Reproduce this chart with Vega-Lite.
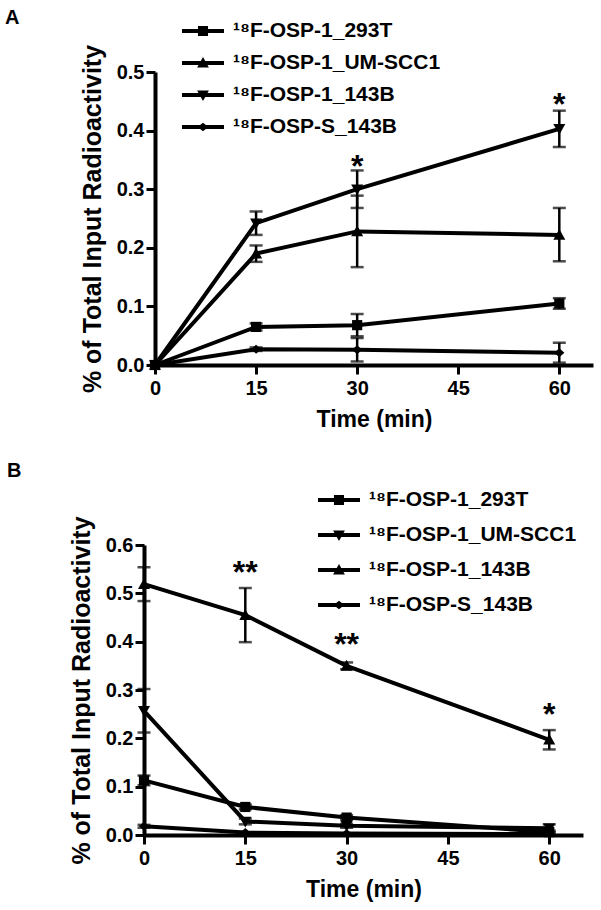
{
  "$schema": "https://vega.github.io/schema/vega-lite/v6.json",
  "background": "white",
  "padding": {"left": 5, "top": 8, "right": 5, "bottom": 5},
  "spacing": 30,
  "resolve": {"scale": {"shape": "independent"}},
  "datasets": {
    "a": [
      {"series": "¹⁸F-OSP-1_293T", "time": 0, "mean": 0},
      {"series": "¹⁸F-OSP-1_293T", "time": 15, "mean": 0.065, "lo": 0.059, "hi": 0.071},
      {"series": "¹⁸F-OSP-1_293T", "time": 30, "mean": 0.068, "lo": 0.049, "hi": 0.087},
      {"series": "¹⁸F-OSP-1_293T", "time": 60, "mean": 0.105, "lo": 0.096, "hi": 0.114},
      {"series": "¹⁸F-OSP-1_UM-SCC1", "time": 0, "mean": 0},
      {"series": "¹⁸F-OSP-1_UM-SCC1", "time": 15, "mean": 0.19, "lo": 0.176, "hi": 0.204},
      {"series": "¹⁸F-OSP-1_UM-SCC1", "time": 30, "mean": 0.228, "lo": 0.167, "hi": 0.289},
      {"series": "¹⁸F-OSP-1_UM-SCC1", "time": 60, "mean": 0.222, "lo": 0.177, "hi": 0.268},
      {"series": "¹⁸F-OSP-1_143B", "time": 0, "mean": 0},
      {"series": "¹⁸F-OSP-1_143B", "time": 15, "mean": 0.242, "lo": 0.222, "hi": 0.262},
      {"series": "¹⁸F-OSP-1_143B", "time": 30, "mean": 0.3, "lo": 0.268, "hi": 0.332},
      {"series": "¹⁸F-OSP-1_143B", "time": 60, "mean": 0.403, "lo": 0.372, "hi": 0.434},
      {"series": "¹⁸F-OSP-S_143B", "time": 0, "mean": 0},
      {"series": "¹⁸F-OSP-S_143B", "time": 15, "mean": 0.027, "lo": 0.024, "hi": 0.03},
      {"series": "¹⁸F-OSP-S_143B", "time": 30, "mean": 0.026, "lo": 0.006, "hi": 0.046},
      {"series": "¹⁸F-OSP-S_143B", "time": 60, "mean": 0.021, "lo": 0.004, "hi": 0.038}
    ],
    "b": [
      {"series": "¹⁸F-OSP-1_293T", "time": 0, "mean": 0.113, "lo": 0.103, "hi": 0.123},
      {"series": "¹⁸F-OSP-1_293T", "time": 15, "mean": 0.058, "lo": 0.053, "hi": 0.063},
      {"series": "¹⁸F-OSP-1_293T", "time": 30, "mean": 0.036, "lo": 0.031, "hi": 0.041},
      {"series": "¹⁸F-OSP-1_293T", "time": 60, "mean": 0.006, "lo": 0.003, "hi": 0.009},
      {"series": "¹⁸F-OSP-1_UM-SCC1", "time": 0, "mean": 0.257, "lo": 0.212, "hi": 0.302},
      {"series": "¹⁸F-OSP-1_UM-SCC1", "time": 15, "mean": 0.028, "lo": 0.022, "hi": 0.034},
      {"series": "¹⁸F-OSP-1_UM-SCC1", "time": 30, "mean": 0.019, "lo": 0.015, "hi": 0.023},
      {"series": "¹⁸F-OSP-1_UM-SCC1", "time": 60, "mean": 0.014, "lo": 0.006, "hi": 0.022},
      {"series": "¹⁸F-OSP-1_143B", "time": 0, "mean": 0.519, "lo": 0.484, "hi": 0.554},
      {"series": "¹⁸F-OSP-1_143B", "time": 15, "mean": 0.455, "lo": 0.399, "hi": 0.511},
      {"series": "¹⁸F-OSP-1_143B", "time": 30, "mean": 0.35, "lo": 0.343, "hi": 0.357},
      {"series": "¹⁸F-OSP-1_143B", "time": 60, "mean": 0.197, "lo": 0.177, "hi": 0.217},
      {"series": "¹⁸F-OSP-S_143B", "time": 0, "mean": 0.018, "lo": 0.015, "hi": 0.021},
      {"series": "¹⁸F-OSP-S_143B", "time": 15, "mean": 0.005},
      {"series": "¹⁸F-OSP-S_143B", "time": 30, "mean": 0.003},
      {"series": "¹⁸F-OSP-S_143B", "time": 60, "mean": 0.002}
    ],
    "starsA": [
      {"time": 30, "y": 0.351, "label": "*"},
      {"time": 60, "y": 0.458, "label": "*"}
    ],
    "starsB": [
      {"time": 15, "y": 0.559, "label": "**"},
      {"time": 30, "y": 0.41, "label": "**"},
      {"time": 60, "y": 0.265, "label": "*"}
    ]
  },
  "vconcat": [
    {
      "width": 438,
      "height": 293,
      "title": {"text": "A", "anchor": "start", "frame": "group", "dx": -150, "dy": 15},
      "resolve": {"scale": {"shape": "independent"}},
      "encoding": {
        "x": {"field": "time", "type": "quantitative", "title": "Time (min)",
              "scale": {"domain": [0, 65], "nice": false},
              "axis": {"values": [0, 15, 30, 45, 60], "labelPadding": 4, "titlePadding": 10}}
      },
      "layer": [
        {
          "data": {"name": "a"},
          "mark": {"type": "rule", "color": "black", "strokeWidth": 2.5},
          "encoding": {
            "y": {"field": "lo", "type": "quantitative", "title": "% of Total Input Radioactivity",
                  "scale": {"domain": [0, 0.5], "nice": false},
                  "axis": {"values": [0, 0.1, 0.2, 0.3, 0.4, 0.5], "format": ".1f", "labelPadding": 2, "titlePadding": 11}},
            "y2": {"field": "hi"}
          }
        },
        {
          "data": {"name": "a"},
          "mark": {"type": "tick", "orient": "horizontal", "color": "black", "size": 13, "thickness": 2.5},
          "encoding": {"y": {"field": "lo", "type": "quantitative", "title": "% of Total Input Radioactivity"}}
        },
        {
          "data": {"name": "a"},
          "mark": {"type": "tick", "orient": "horizontal", "color": "black", "size": 13, "thickness": 2.5},
          "encoding": {"y": {"field": "hi", "type": "quantitative", "title": "% of Total Input Radioactivity"}}
        },
        {
          "data": {"name": "a"},
          "mark": {"type": "line", "color": "black", "strokeWidth": 4},
          "encoding": {
            "y": {"field": "mean", "type": "quantitative", "title": "% of Total Input Radioactivity"},
            "detail": {"field": "series"}
          }
        },
        {
          "data": {"name": "a"},
          "mark": {"type": "point", "filled": true, "color": "black", "size": 144, "opacity": 1},
          "encoding": {
            "y": {"field": "mean", "type": "quantitative", "title": "% of Total Input Radioactivity"},
            "shape": {
              "field": "series", "type": "nominal",
              "scale": {
                "domain": ["¹⁸F-OSP-1_293T", "¹⁸F-OSP-1_UM-SCC1", "¹⁸F-OSP-1_143B", "¹⁸F-OSP-S_143B"],
                "range": ["M-0.85,-0.85H0.85V0.85H-0.85Z", "M0,-1L1,0.8H-1Z", "M0,1L-1,-0.8H1Z", "M0,-0.75L0.85,0L0,0.75L-0.85,0Z"]
              },
              "legend": null
            }
          }
        },
        {
          "data": {"name": "a"},
          "mark": {"type": "point", "filled": true, "color": "black", "size": 1, "opacity": 0},
          "encoding": {
            "y": {"field": "mean", "type": "quantitative", "title": "% of Total Input Radioactivity"},
            "shape": {
              "field": "series", "type": "nominal",
              "scale": {
                "domain": ["¹⁸F-OSP-1_293T", "¹⁸F-OSP-1_UM-SCC1", "¹⁸F-OSP-1_143B", "¹⁸F-OSP-S_143B"],
                "range": [
                  "M-1,-0.095H1V0.095H-1Z M-0.24,-0.24H0.24V0.24H-0.24Z",
                  "M-1,-0.095H1V0.095H-1Z M0,-0.28L0.28,0.22H-0.28Z",
                  "M-1,-0.095H1V0.095H-1Z M0,0.28L-0.28,-0.22H0.28Z",
                  "M-1,-0.095H1V0.095H-1Z M0,-0.2L0.26,0L0,0.2L-0.26,0Z"
                ]
              },
              "legend": {
                "title": null, "orient": "none", "legendX": 27, "legendY": -55,
                "symbolSize": 1764, "clipHeight": 28, "rowPadding": 4, "labelOffset": 9, "labelLimit": 400,
                "padding": 0, "symbolOpacity": 1, "symbolFillColor": "black", "symbolStrokeWidth": 0
              }
            }
          }
        },
        {
          "data": {"name": "starsA"},
          "mark": {"type": "text", "fontSize": 32, "fontWeight": "bold", "font": "Liberation Sans", "color": "black", "baseline": "middle", "dy": 8},
          "encoding": {
            "y": {"field": "y", "type": "quantitative", "title": "% of Total Input Radioactivity"},
            "text": {"field": "label"}
          }
        }
      ]
    },
    {
      "width": 428,
      "height": 290,
      "title": {"text": "B", "anchor": "start", "frame": "group", "dx": -148},
      "resolve": {"scale": {"shape": "independent"}},
      "encoding": {
        "x": {"field": "time", "type": "quantitative", "title": "Time (min)",
              "scale": {"domain": [0, 65], "nice": false, "range": [-11, 428]},
              "axis": {"values": [0, 15, 30, 45, 60], "labelPadding": 4, "titlePadding": 10}}
      },
      "layer": [
        {
          "data": {"name": "b"},
          "mark": {"type": "rule", "color": "black", "strokeWidth": 2.5},
          "encoding": {
            "y": {"field": "lo", "type": "quantitative", "title": "% of Total Input Radioactivity",
                  "scale": {"domain": [0, 0.6], "nice": false},
                  "axis": {"values": [0, 0.1, 0.2, 0.3, 0.4, 0.5, 0.6], "format": ".1f", "labelPadding": 2, "titlePadding": 11, "offset": 11}},
            "y2": {"field": "hi"}
          }
        },
        {
          "data": {"name": "b"},
          "mark": {"type": "tick", "orient": "horizontal", "color": "black", "size": 13, "thickness": 2.5},
          "encoding": {"y": {"field": "lo", "type": "quantitative", "title": "% of Total Input Radioactivity"}}
        },
        {
          "data": {"name": "b"},
          "mark": {"type": "tick", "orient": "horizontal", "color": "black", "size": 13, "thickness": 2.5},
          "encoding": {"y": {"field": "hi", "type": "quantitative", "title": "% of Total Input Radioactivity"}}
        },
        {
          "data": {"name": "b"},
          "mark": {"type": "line", "color": "black", "strokeWidth": 4},
          "encoding": {
            "y": {"field": "mean", "type": "quantitative", "title": "% of Total Input Radioactivity"},
            "detail": {"field": "series"}
          }
        },
        {
          "data": {"name": "b"},
          "mark": {"type": "point", "filled": true, "color": "black", "size": 144, "opacity": 1},
          "encoding": {
            "y": {"field": "mean", "type": "quantitative", "title": "% of Total Input Radioactivity"},
            "shape": {
              "field": "series", "type": "nominal",
              "scale": {
                "domain": ["¹⁸F-OSP-1_293T", "¹⁸F-OSP-1_UM-SCC1", "¹⁸F-OSP-1_143B", "¹⁸F-OSP-S_143B"],
                "range": ["M-0.85,-0.85H0.85V0.85H-0.85Z", "M0,1L-1,-0.8H1Z", "M0,-1L1,0.8H-1Z", "M0,-0.75L0.85,0L0,0.75L-0.85,0Z"]
              },
              "legend": null
            }
          }
        },
        {
          "data": {"name": "b"},
          "mark": {"type": "point", "filled": true, "color": "black", "size": 1, "opacity": 0},
          "encoding": {
            "y": {"field": "mean", "type": "quantitative", "title": "% of Total Input Radioactivity"},
            "shape": {
              "field": "series", "type": "nominal",
              "scale": {
                "domain": ["¹⁸F-OSP-1_293T", "¹⁸F-OSP-1_UM-SCC1", "¹⁸F-OSP-1_143B", "¹⁸F-OSP-S_143B"],
                "range": [
                  "M-1,-0.095H1V0.095H-1Z M-0.24,-0.24H0.24V0.24H-0.24Z",
                  "M-1,-0.095H1V0.095H-1Z M0,0.28L-0.28,-0.22H0.28Z",
                  "M-1,-0.095H1V0.095H-1Z M0,-0.28L0.28,0.22H-0.28Z",
                  "M-1,-0.095H1V0.095H-1Z M0,-0.2L0.26,0L0,0.2L-0.26,0Z"
                ]
              },
              "legend": {
                "title": null, "orient": "none", "legendX": 163, "legendY": -60,
                "symbolSize": 1764, "clipHeight": 30, "rowPadding": 5, "labelOffset": 9, "labelLimit": 400,
                "padding": 0, "symbolOpacity": 1, "symbolFillColor": "black", "symbolStrokeWidth": 0
              }
            }
          }
        },
        {
          "data": {"name": "starsB"},
          "mark": {"type": "text", "fontSize": 32, "fontWeight": "bold", "font": "Liberation Sans", "color": "black", "baseline": "middle", "dy": 8},
          "encoding": {
            "y": {"field": "y", "type": "quantitative", "title": "% of Total Input Radioactivity"},
            "text": {"field": "label"}
          }
        }
      ]
    }
  ],
  "config": {
    "view": {"stroke": null},
    "font": "Liberation Sans",
    "title": {"font": "Liberation Sans", "fontSize": 20, "fontWeight": "bold", "color": "black"},
    "axis": {
      "grid": false,
      "domainColor": "black", "domainWidth": 4,
      "tickColor": "black", "tickWidth": 3, "tickSize": 9,
      "labelFont": "Liberation Sans", "labelFontSize": 20, "labelFontWeight": "bold", "labelColor": "black",
      "labelFlush": false, "labelOverlap": false,
      "titleFont": "Liberation Sans", "titleFontSize": 23, "titleFontWeight": "bold", "titleColor": "black"
    },
    "axisY": {"titleFontSize": 25},
    "legend": {
      "labelFont": "Liberation Sans", "labelFontSize": 21, "labelFontWeight": "bold", "labelColor": "black"
    }
  }
}
